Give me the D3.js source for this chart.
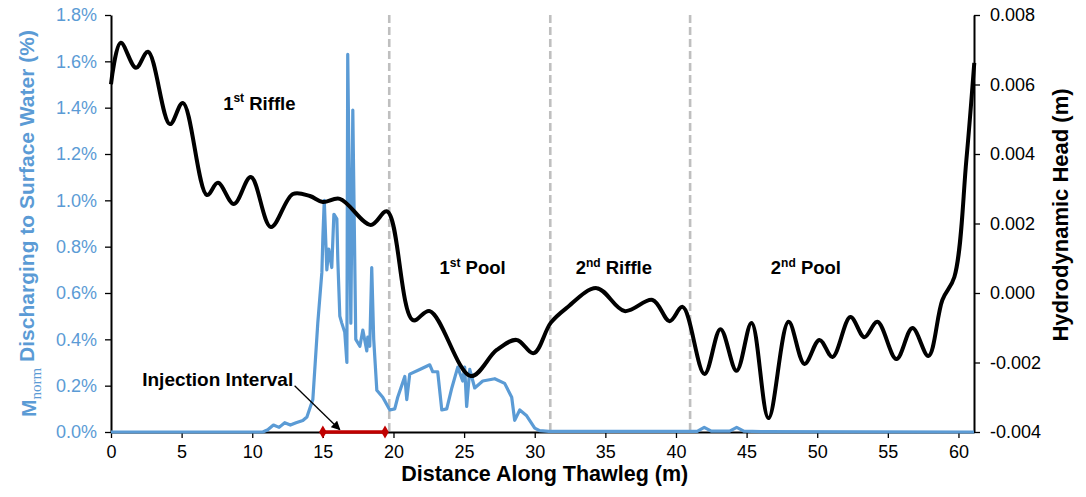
<!DOCTYPE html>
<html>
<head>
<meta charset="utf-8">
<script src="https://cdn.jsdelivr.net/npm/d3@7"></script>
<style>
  body { margin: 0; background: #fff; }
  svg { display: block; font-family: "Liberation Sans", Arial, sans-serif; }
</style>
</head>
<body>
<div id="chart"></div>
<script>
// distancia (m) y carga hidrodinámica (m)
const headDist = [0, 0.69, 1.77, 2.62, 4.17, 5.09, 6.79, 7.57, 8.70, 9.90, 11.32, 12.88, 14.08, 15.00, 16.20, 18.39, 19.55, 21.37, 22.57, 25.47, 27.31, 28.72, 29.93, 31.13, 32.26, 34.38, 36.36, 38.34, 39.55, 40.47, 42.02, 43.15, 44.29, 45.35, 46.55, 47.97, 49.10, 50.16, 51.08, 52.35, 53.34, 54.26, 55.61, 56.74, 57.87, 58.86, 59.71, 60.56, 61.12];
const headVal = [0.00601, 0.00720, 0.00648, 0.00694, 0.00486, 0.00547, 0.00282, 0.00317, 0.00256, 0.00334, 0.00190, 0.00285, 0.00279, 0.00262, 0.00271, 0.00196, 0.00235, -0.00078, -0.00052, -0.00239, -0.00164, -0.00135, -0.00173, -0.00086, -0.00043, 0.00014, -0.00052, -0.00020, -0.00081, -0.00040, -0.00233, -0.00104, -0.00224, -0.00086, -0.00360, -0.00083, -0.00204, -0.00135, -0.00184, -0.00069, -0.00127, -0.00083, -0.00190, -0.00101, -0.00181, -0.00020, 0.00046, 0.00383, 0.00662];

// M_norm descargando a agua superficial (fracción)
const mDist = [0, 10.75, 11.1, 11.5, 11.9, 12.3, 12.7, 13.1, 13.58, 13.87, 14.29, 14.64, 14.93, 15.0, 15.1, 15.28, 15.42, 15.63, 15.78, 15.99, 16.06, 16.2, 16.34, 16.55, 16.7, 16.76, 16.98, 17.12, 17.33, 17.62, 17.83, 18.11, 18.18, 18.32, 18.46, 18.6, 18.82, 19.24, 19.74, 20.09, 20.3, 20.8, 20.94, 21.15, 21.86, 22.57, 22.78, 23.13, 23.42, 23.77, 24.13, 24.55, 24.9, 25.04, 25.18, 25.4, 25.75, 26.32, 27.17, 27.87, 28.37, 28.58, 28.94, 29.43, 30.0, 30.35, 31.0, 41.5, 42.0, 42.5, 43.8, 44.3, 44.8, 46.0, 61.1];
const mVal = [0, 0, 0.0001, 0.0003, 0.0002, 0.0004, 0.0003, 0.0004, 0.0005, 0.00065, 0.0014, 0.0047, 0.0069, 0.0084, 0.0100, 0.0070, 0.0079, 0.0071, 0.0094, 0.0092, 0.0074, 0.0050, 0.0047, 0.0043, 0.0030, 0.0163, 0.0047, 0.0139, 0.0040, 0.0037, 0.0044, 0.0035, 0.0041, 0.0037, 0.0071, 0.0040, 0.0018, 0.0015, 0.00095, 0.0010, 0.0015, 0.0024, 0.0014, 0.0025, 0.0027, 0.0029, 0.0026, 0.0026, 0.00095, 0.0010, 0.0019, 0.0028, 0.0022, 0.0028, 0.0011, 0.0027, 0.0019, 0.0022, 0.0023, 0.0021, 0.0015, 0.0005, 0.00095, 0.0007, 0.00017, 0.00006, 0.00003, 0.00003, 0.0002, 0.00004, 0.00004, 0.0002, 0.00004, 0.00002, 0];

const xTicks = [0, 5, 10, 15, 20, 25, 30, 35, 40, 45, 50, 55, 60];
const leftTicks = [0, 0.002, 0.004, 0.006, 0.008, 0.010, 0.012, 0.014, 0.016, 0.018];
const rightTicks = [-0.004, -0.002, 0, 0.002, 0.004, 0.006, 0.008];

const limites = [19.7, 31.1, 41.0];
const secciones = [
  { num: "1", sup: "st", nombre: "Riffle", x: 10.5, y: 0.0142 },
  { num: "1", sup: "st", nombre: "Pool", x: 25.6, y: 0.0071 },
  { num: "2", sup: "nd", nombre: "Riffle", x: 35.6, y: 0.0071 },
  { num: "2", sup: "nd", nombre: "Pool", x: 49.2, y: 0.0071 }
];
const intervalo = [15.0, 19.4];

const width = 1086, height = 497;
const margin = { top: 15, right: 112, bottom: 65, left: 111 };
const AZUL = "#5B9BD5";

const svg = d3.select("#chart").append("svg").attr("width", width).attr("height", height);

const x = d3.scaleLinear().domain([0, 61.1]).range([margin.left, width - margin.right]);
const yL = d3.scaleLinear().domain([0, 0.018]).range([height - margin.bottom, margin.top]);
const yR = d3.scaleLinear().domain([-0.004, 0.008]).range([height - margin.bottom, margin.top]);

// límites de secciones
svg.selectAll("line.limite")
  .data(limites)
  .join("line")
  .attr("class", "limite")
  .attr("x1", (d) => x(d)).attr("x2", (d) => x(d))
  .attr("y1", margin.top).attr("y2", height - margin.bottom)
  .attr("stroke", "#BFBFBF").attr("stroke-width", 2.6).attr("stroke-dasharray", "8,4");

// ejes
const ejeX = svg.append("g")
  .attr("transform", `translate(0,${height - margin.bottom})`)
  .call(d3.axisBottom(x).tickValues(xTicks).tickSize(6).tickSizeOuter(0).tickFormat(d3.format("d")));
ejeX.selectAll("text").attr("font-size", 18).attr("fill", "#000").attr("dy", "0.95em");

const ejeL = svg.append("g")
  .attr("transform", `translate(${margin.left},0)`)
  .call(d3.axisLeft(yL).tickValues(leftTicks).tickSize(6).tickSizeOuter(0).tickFormat(d3.format(".1%")));
ejeL.selectAll("text").attr("font-size", 18).attr("fill", AZUL).attr("x", -14);

const ejeR = svg.append("g")
  .attr("transform", `translate(${width - margin.right},0)`)
  .call(d3.axisRight(yR).tickValues(rightTicks).tickSize(6).tickSizeOuter(0)
    .tickFormat((d) => d3.format(".3f")(d).replace("−", "-")));
ejeR.selectAll("text").attr("font-size", 18).attr("fill", "#000").attr("x", 16);

[ejeX, ejeL, ejeR].forEach((g) => {
  g.select(".domain").attr("stroke", "#000").attr("stroke-width", 2);
  g.selectAll(".tick line").attr("stroke", "#000").attr("stroke-width", 1.3);
});

// serie azul
const lineaM = d3.line().x((d, i) => x(mDist[i])).y((d) => yL(d));
svg.append("path")
  .attr("d", lineaM(mVal))
  .attr("fill", "none").attr("stroke", AZUL).attr("stroke-width", 3.2).attr("stroke-linejoin", "round");

// carga hidrodinámica
const lineaH = d3.line().x((d, i) => x(headDist[i])).y((d) => yR(d)).curve(d3.curveCatmullRom.alpha(0.5));
svg.append("path")
  .attr("d", lineaH(headVal))
  .attr("fill", "none").attr("stroke", "#000").attr("stroke-width", 4).attr("stroke-linejoin", "round");

// intervalo de inyección
svg.append("line")
  .attr("x1", x(intervalo[0])).attr("x2", x(intervalo[1]))
  .attr("y1", yL(0)).attr("y2", yL(0))
  .attr("stroke", "#C00000").attr("stroke-width", 3.5);
svg.selectAll("path.diamante")
  .data(intervalo)
  .join("path")
  .attr("class", "diamante")
  .attr("d", d3.symbol(d3.symbolDiamond, 50))
  .attr("transform", (d) => `translate(${x(d)},${yL(0)})`)
  .attr("fill", "#C00000");

svg.append("defs").append("marker")
  .attr("id", "flecha").attr("viewBox", "0 0 10 10").attr("refX", 9).attr("refY", 5)
  .attr("markerWidth", 7).attr("markerHeight", 7).attr("orient", "auto")
  .append("path").attr("d", "M0,0 L10,5 L0,10 z").attr("fill", "#000");

svg.append("line")
  .attr("x1", x(13.0)).attr("y1", yL(0.0020))
  .attr("x2", x(16.2)).attr("y2", yL(0.0001))
  .attr("stroke", "#000").attr("stroke-width", 1.3).attr("marker-end", "url(#flecha)");

svg.append("text")
  .attr("x", x(12.9)).attr("y", 386)
  .attr("text-anchor", "end").attr("font-size", 19).attr("font-weight", "bold")
  .text("Injection Interval");

// etiquetas de secciones
secciones.forEach((s) => {
  const t = svg.append("text")
    .attr("x", x(s.x)).attr("y", yL(s.y)).attr("dy", "0.35em")
    .attr("text-anchor", "middle").attr("font-size", 18.5).attr("font-weight", "bold");
  t.append("tspan").text(s.num);
  t.append("tspan").attr("font-size", 12).attr("dy", "-0.6em").text(s.sup);
  t.append("tspan").attr("dy", "0.39em").text(" " + s.nombre);
});

// títulos de ejes
svg.append("text")
  .attr("x", x(20.3) + 147).attr("y", 481)
  .attr("text-anchor", "middle").attr("font-size", 21.5).attr("font-weight", "bold")
  .text("Distance Along Thawleg (m)");

const tituloL = svg.append("text")
  .attr("transform", `translate(36,${(margin.top + height - margin.bottom) / 2}) rotate(-90)`)
  .attr("text-anchor", "middle").attr("font-size", 21).attr("font-weight", "bold").attr("fill", AZUL);
tituloL.append("tspan").text("M");
tituloL.append("tspan").attr("font-size", 15).attr("font-weight", "normal")
  .attr("font-family", "'Liberation Serif', 'Times New Roman', serif").attr("dy", "0.3em").text("norm");
tituloL.append("tspan").attr("dy", "-0.3em").text(" Discharging to Surface Water (%)");

svg.append("text")
  .attr("transform", `translate(1068,215) rotate(-90)`)
  .attr("text-anchor", "middle").attr("font-size", 22).attr("font-weight", "bold")
  .text("Hydrodynamic Head (m)");
</script>
</body>
</html>
